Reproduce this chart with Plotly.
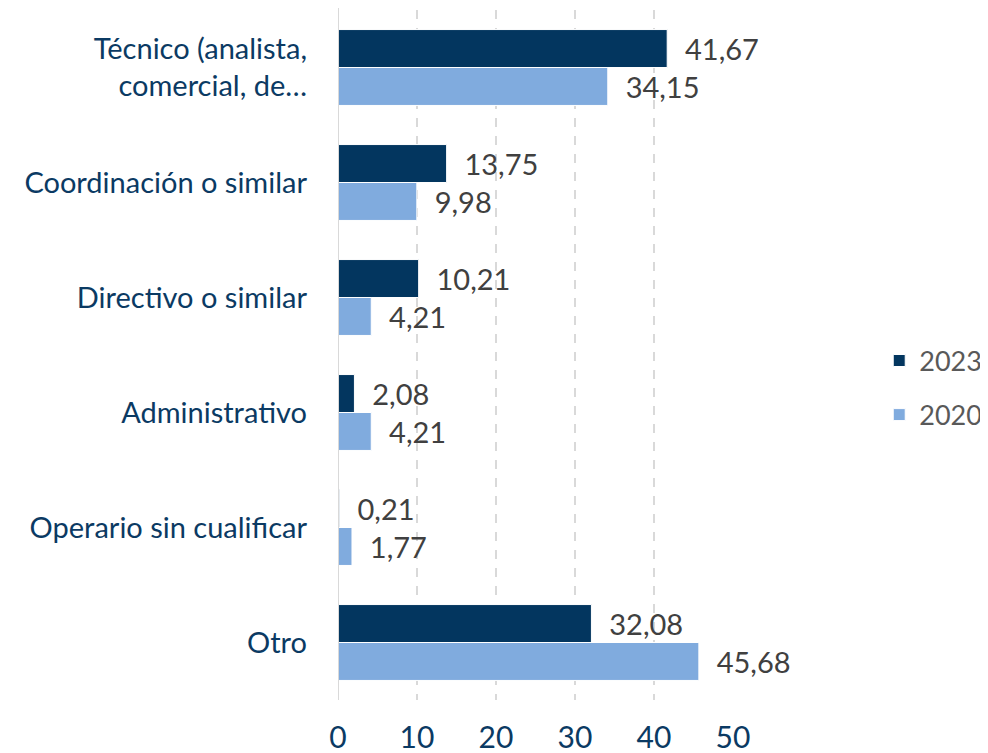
import plotly.graph_objects as go

categorias = ["Técnico (analista,<br>comercial, de…", "Coordinación o similar", "Directivo o similar",
              "Administrativo", "Operario sin cualificar", "Otro"]
valores_2023 = [41.67, 13.75, 10.21, 2.08, 0.21, 32.08]
valores_2020 = [34.15, 9.98, 4.21, 4.21, 1.77, 45.68]
ticks_x = [0, 10, 20, 30, 40, 50]

AZUL_OSCURO = "#03365F"
AZUL_CLARO = "#80ABDE"
TEXTO_EJES = "#0B3A63"

fig = go.Figure()

for nombre, valores, color in [("2023", valores_2023, AZUL_OSCURO), ("2020", valores_2020, AZUL_CLARO)]:
    fig.add_trace(go.Bar(
        y=categorias,
        x=valores,
        name=nombre,
        legendgroup=nombre,
        orientation='h',
        marker=dict(color=color, line=dict(color='white', width=1)),
        texttemplate='\u00a0\u00a0%{x:.2f}',
        textposition='outside',
        textfont=dict(color='#404040', size=29),
        cliponaxis=False
    ))

# the page body keeps an 8px margin, so the figure is a bit smaller than the window
fig.update_layout(
    width=980,
    height=745,
    barmode='group',
    bargap=0.34,
    bargroupgap=0,
    separators=',.',
    font=dict(family='Lato, Open Sans, sans-serif', size=29, color=TEXTO_EJES),
    plot_bgcolor='white',
    paper_bgcolor='white',
    margin=dict(l=330, r=255, t=2, b=53, autoexpand=False),
    legend=dict(
        xref='container', yref='container',
        x=0.889, y=0.49, xanchor='left', yanchor='middle',
        font=dict(size=27, color='#595959'),
        traceorder='grouped',
        tracegroupgap=16,
        itemwidth=30
    ),
    xaxis=dict(
        range=[0, 50],
        tickvals=ticks_x,
        showgrid=True,
        gridcolor='#D9D9D9',
        gridwidth=2,
        griddash='dash',
        zeroline=False,
        showline=False,
        ticklabelstandoff=17,
        tickfont=dict(size=30, color=TEXTO_EJES)
    ),
    yaxis=dict(
        autorange='reversed',
        showgrid=False,
        showline=False,
        zeroline=False,
        ticklabelstandoff=30,
        tickfont=dict(size=29, color=TEXTO_EJES)
    ),
    shapes=[dict(type='line', xref='x', yref='paper', x0=0, x1=0, y0=0, y1=1.005,
                 line=dict(color='#D9D9D9', width=2))]
)

fig.write_html("out.html")
